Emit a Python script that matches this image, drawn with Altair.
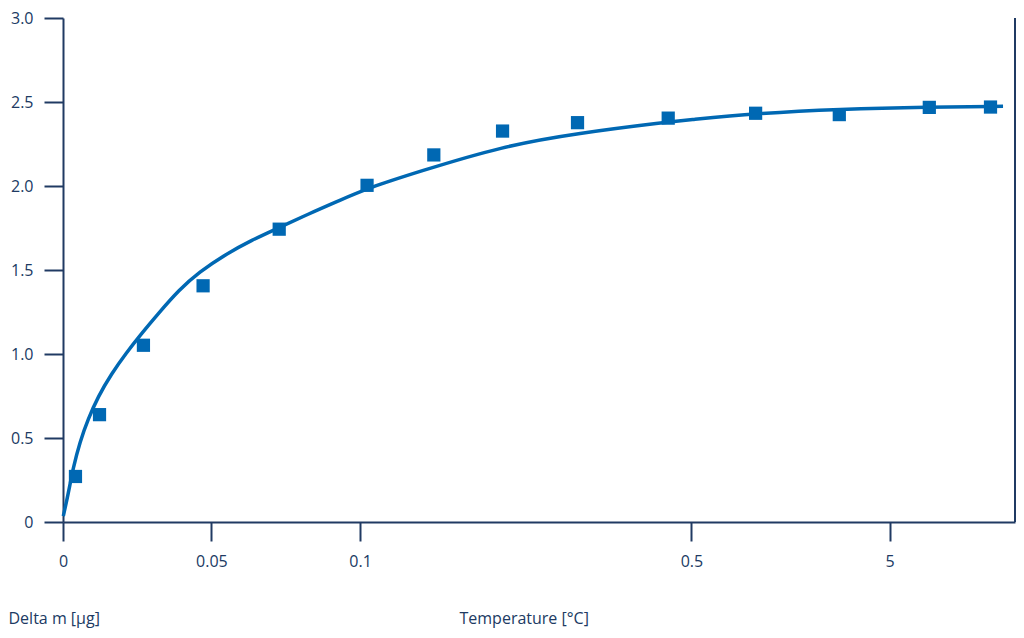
import altair as alt
import pandas as pd

point_temp = [0.0042, 0.0123, 0.0271, 0.0472, 0.0728, 0.1084, 0.189, 0.272,
              0.3625, 0.472, 1.958, 3.858, 9.75, 17.07]
point_mass = [0.271, 0.639, 1.052, 1.406, 1.743, 2.004, 2.185, 2.327,
              2.377, 2.404, 2.433, 2.425, 2.468, 2.470]

# Fitted curve
curve_temp = [0.0001, 0.00177, 0.00344, 0.00569, 0.00846, 0.01181, 0.01629,
              0.0213, 0.02642, 0.03237, 0.03906, 0.04582, 0.05474, 0.06362,
              0.07253, 0.08254, 0.09256, 0.1092, 0.1692, 0.272, 0.3625,
              0.472, 0.4928, 1.958, 3.858, 9.75, 18.57]
curve_mass = [0.035, 0.169, 0.323, 0.477, 0.612, 0.746, 0.881,
              1.006, 1.121, 1.246, 1.381, 1.487, 1.593, 1.679,
              1.750, 1.833, 1.910, 1.987, 2.083, 2.237, 2.314,
              2.381, 2.391, 2.433, 2.458, 2.471, 2.474]

x_ticks = [0, 0.05, 0.1, 0.5, 5]
y_ticks = [0, 0.5, 1.0, 1.5, 2.0, 2.5, 3.0]
x_max = 20

NAVY = "#203a63"
BLUE = "#0068b3"
FONT = "Open Sans"
FS = 16

W, H = 952, 504

x_scale = alt.Scale(domain=[0, 0.05, 0.1, 0.5, 5, x_max],
                    range=[0, 148.4, 297.1, 628.4, 826.6, W],
                    zero=False, nice=False)
y_scale = alt.Scale(domain=[0, 3], nice=False)

points = pd.DataFrame({"t": point_temp, "m": point_mass})
curve = pd.DataFrame({"t": curve_temp, "m": curve_mass})

x_axis = alt.Axis(values=x_ticks, labelExpr="format(datum.value, '~g')",
                  grid=False, domainColor=NAVY, domainWidth=2,
                  tickColor=NAVY, tickWidth=2, tickSize=19,
                  labelColor=NAVY, labelFont=FONT, labelFontSize=FS,
                  labelPadding=12, labelFlush=False,
                  title="Temperature [°C]", titleFont=FONT, titleFontSize=FS,
                  titleFontWeight="normal", titleColor=NAVY,
                  titleAlign="left", titleBaseline="middle",
                  titleX=396, titleY=96)
y_axis = alt.Axis(values=y_ticks,
                  labelExpr="datum.value == 0 ? '0' : format(datum.value, '.1f')",
                  grid=False, domainColor=NAVY, domainWidth=2,
                  tickColor=NAVY, tickWidth=2, tickSize=19,
                  labelColor=NAVY, labelFont=FONT, labelFontSize=FS,
                  labelPadding=11,
                  title="Delta m [µg]", titleFont=FONT, titleFontSize=FS,
                  titleFontWeight="normal", titleColor=NAVY, titleAngle=0,
                  titleAlign="left", titleBaseline="middle",
                  titleX=-55, titleY=H + 96)

line = alt.Chart(curve).mark_line(color=BLUE, strokeWidth=3.5,
                                  interpolate="basis").encode(
    x=alt.X("t:Q", scale=x_scale, axis=x_axis),
    y=alt.Y("m:Q", scale=y_scale, axis=y_axis),
)

squares = alt.Chart(points).mark_point(shape="square", filled=True, color=BLUE,
                                       opacity=1, size=175).encode(
    x=alt.X("t:Q", scale=x_scale),
    y=alt.Y("m:Q", scale=y_scale),
)

right_border = alt.Chart(points).mark_rule(color=NAVY, strokeWidth=2).encode(
    x=alt.datum(x_max, scale=x_scale),
    y=alt.datum(0, scale=y_scale),
    y2=alt.datum(3),
)

chart = alt.layer(line, squares, right_border).properties(
    width=W, height=H,
    padding={"top": 2, "left": 0, "right": 0, "bottom": 4},
    background="white",
).configure_view(stroke=None)

chart.save("out.html", embed_options={"renderer": "svg", "actions": False})
